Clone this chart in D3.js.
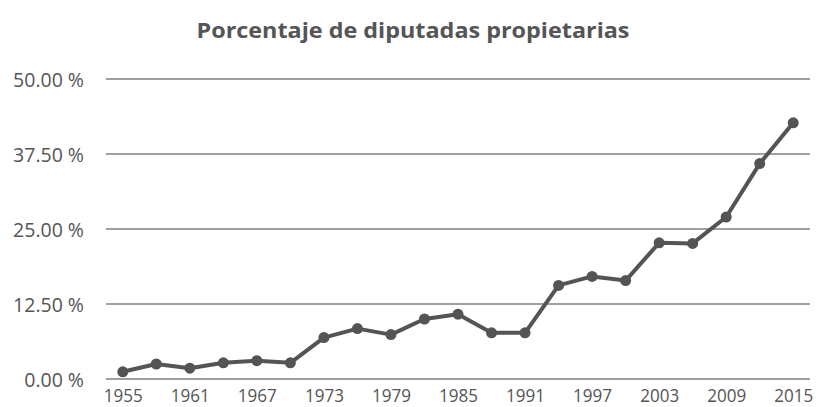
<!DOCTYPE html>
<html>
<head>
<meta charset="utf-8">
<script src="https://cdn.jsdelivr.net/npm/d3@7"></script>
<style>
  body { margin: 0; background: #fff; }
  text { font-family: "Open Sans", "Noto Sans", sans-serif; fill: #555; }
</style>
</head>
<body>
<div id="chart"></div>
<script>
var years = [1955, 1958, 1961, 1964, 1967, 1970, 1973, 1976, 1979, 1982, 1985,
  1988, 1991, 1994, 1997, 2000, 2003, 2006, 2009, 2012, 2015];
var values = [1.2, 2.5, 1.8, 2.7, 3.05, 2.7, 6.9, 8.4, 7.4, 10.0, 10.8,
  7.7, 7.7, 15.6, 17.1, 16.4, 22.7, 22.6, 27.0, 35.9, 42.7];
var yTicks = [0, 12.5, 25, 37.5, 50];
var xLabels = [1955, 1961, 1967, 1973, 1979, 1985, 1991, 1997, 2003, 2009, 2015];
var title = "Porcentaje de diputadas propietarias";

(function() {
  var width = 819, height = 407;

  var svg = d3.select("#chart")
    .append("svg")
    .attr("width", width)
    .attr("height", height);

  var x = d3.scalePoint()
    .domain(years)
    .range([106, 810])
    .padding(0.5);

  var y = d3.scaleLinear()
    .domain([0, 50])
    .range([379, 79]);

  svg.append("text")
    .attr("x", 413)
    .attr("y", 38)
    .attr("text-anchor", "middle")
    .attr("font-size", 21)
    .attr("font-weight", "bold")
    .attr("textLength", 433)
    .attr("lengthAdjust", "spacingAndGlyphs")
    .text(title);

  // gridlines
  svg.selectAll(".grid")
    .data(yTicks)
    .enter().append("line")
    .attr("class", "grid")
    .attr("x1", 106)
    .attr("x2", 810)
    .attr("y1", function(d) { return y(d) })
    .attr("y2", function(d) { return y(d) })
    .attr("stroke", "#a0a0a0")
    .attr("stroke-width", 2);

  var yAxis = d3.axisLeft(y)
    .tickValues(yTicks)
    .tickSize(0)
    .tickPadding(0)
    .tickFormat(function(d) { return d.toFixed(2) + " %" });

  var yg = svg.append("g")
    .attr("transform", "translate(84,0)")
    .call(yAxis);
  yg.select(".domain").remove();
  yg.selectAll("text")
    .attr("font-size", 19.5)
    .attr("dy", "0.36em")
    .attr("fill", "#555");

  var xAxis = d3.axisBottom(x)
    .tickValues(xLabels)
    .tickSize(0)
    .tickPadding(0);

  var xg = svg.append("g")
    .attr("transform", "translate(0,401.5)")
    .call(xAxis);
  xg.select(".domain").remove();
  xg.selectAll("text")
    .attr("font-size", 18)
    .attr("dy", 0)
    .attr("textLength", 39)
    .attr("lengthAdjust", "spacingAndGlyphs")
    .attr("fill", "#555");

  var line = d3.line()
    .x(function(d, i) { return x(years[i]) })
    .y(function(d) { return y(d) });

  svg.append("path")
    .datum(values)
    .attr("d", line)
    .attr("fill", "none")
    .attr("stroke", "#545454")
    .attr("stroke-width", 4)
    .attr("stroke-linejoin", "round");

  svg.selectAll(".dot")
    .data(values)
    .enter().append("circle")
    .attr("class", "dot")
    .attr("cx", function(d, i) { return x(years[i]) })
    .attr("cy", function(d) { return y(d) })
    .attr("r", 5.5)
    .attr("fill", "#545454");
})();
</script>
</body>
</html>
